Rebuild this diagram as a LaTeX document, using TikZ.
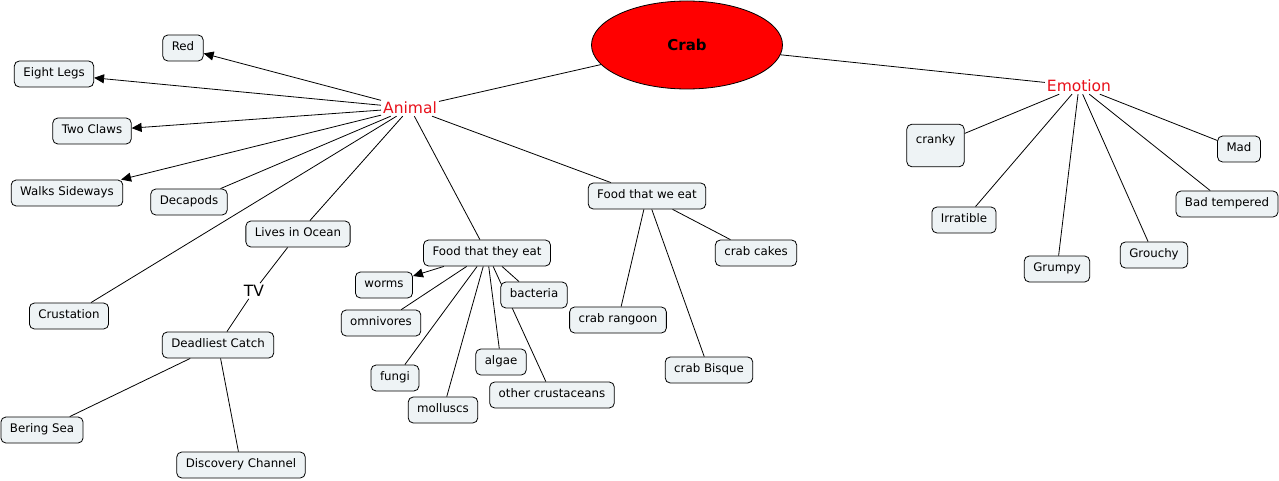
\documentclass[tikz,border=0pt]{standalone}
\usepackage{fontspec}
\setmainfont{DejaVu Sans}
\usetikzlibrary{arrows.meta,shapes.geometric,backgrounds}
\definecolor{CmapFill}{HTML}{EEF3F5}
\definecolor{CmapRed}{HTML}{FF0000}
\definecolor{PhraseRed}{HTML}{E8101A}

\begin{document}
\begin{tikzpicture}[x=1pt,y=-1pt,
  concept/.style={draw=black,line width=0.8pt,rounded corners=5pt,fill=CmapFill,inner xsep=9pt,inner ysep=7pt,text height=8.5pt,text depth=3.5pt,font=\fontsize{11.8}{14}\selectfont},
  phrase/.style={inner sep=2pt,font=\fontsize{15.5}{18}\selectfont,text=PhraseRed},
  root/.style={ellipse,draw=black,line width=0.8pt,fill=CmapRed,minimum width=191pt,minimum height=88pt,inner sep=0pt,font=\bfseries\fontsize{15}{18}\selectfont},
  link/.style={line width=0.8pt,draw=black},
  arr/.style={link,-{Triangle[length=10pt,width=9pt]}}
]
\useasboundingbox (0,0) rectangle (1279,481);
\node[root] (crab) at (687,45) {Crab};
\node[phrase] (animal) at (410,108) {Animal};
\node[phrase] (emotion) at (1079,86) {Emotion};
% animal side
\node[concept] (red) at (183,48) {Red};
\node[concept] (eightlegs) at (54,74) {Eight Legs};
\node[concept] (twoclaws) at (92,131) {Two Claws};
\node[concept] (walks) at (67,193) {Walks Sideways};
\node[concept] (decapods) at (189,202) {Decapods};
\node[concept] (lives) at (298,234) {Lives in Ocean};
\node[phrase,text=black] (tv) at (254,291) {TV};
\node[concept] (crustation) at (69,316) {Crustation};
\node[concept] (deadliest) at (218,345) {Deadliest Catch};
\node[concept] (bering) at (42,430) {Bering Sea};
\node[concept] (discovery) at (241,465) {Discovery Channel};
% food they eat
\node[concept] (foodthey) at (487,253) {Food that they eat};
\node[concept] (worms) at (384,285) {worms};
\node[concept] (omnivores) at (381,323) {omnivores};
\node[concept] (bacteria) at (534,295) {bacteria};
\node[concept] (algae) at (501,362) {algae};
\node[concept] (fungi) at (395,378) {fungi};
\node[concept] (molluscs) at (443,410) {molluscs};
\node[concept] (othercrust) at (552,395) {other crustaceans};
% food we eat
\node[concept] (foodwe) at (647,196) {Food that we eat};
\node[concept] (crabcakes) at (756,253) {crab cakes};
\node[concept] (rangoon) at (618,320) {crab rangoon};
\node[concept] (bisque) at (709,370) {crab Bisque};
% emotion side
\node[concept,text height=12pt,text depth=16.5pt] (cranky) at (935.5,145.5) {cranky};
\node[concept] (irratible) at (964,220) {Irratible};
\node[concept] (grumpy) at (1057,269) {Grumpy};
\node[concept] (grouchy) at (1154,255) {Grouchy};
\node[concept] (badtemp) at (1227,204) {Bad tempered};
\node[concept] (mad) at (1239,149) {Mad};

\begin{scope}[on background layer]
\fill[white] (0,0) rectangle (1279,481);
\draw[link] (crab) -- (animal);
\draw[link] (crab) -- (emotion);
\draw[arr] (animal) -- (red);
\draw[arr] (animal) -- (eightlegs);
\draw[arr] (animal) -- (twoclaws);
\draw[arr] (animal) -- (walks);
\draw[link] (animal) -- (decapods);
\draw[link] (animal) -- (crustation);
\draw[link] (animal) -- (lives);
\draw[link] (animal) -- (foodthey);
\draw[link] (animal) -- (foodwe);
\draw[link] (lives) -- (tv);
\draw[link] (tv) -- (deadliest);
\draw[link] (deadliest) -- (bering);
\draw[link] (deadliest) -- (discovery);
\draw[arr] (foodthey) -- (worms);
\draw[link] (foodthey) -- (omnivores);
\draw[link] (foodthey) -- (fungi);
\draw[link] (foodthey) -- (molluscs);
\draw[link] (foodthey) -- (algae);
\draw[link] (foodthey) -- (othercrust);
\draw[link] (foodthey) -- (bacteria);
\draw[link] (foodwe) -- (crabcakes);
\draw[link] (foodwe) -- (rangoon);
\draw[link] (foodwe) -- (bisque);
\draw[link] (emotion) -- (cranky);
\draw[link] (emotion) -- (irratible);
\draw[link] (emotion) -- (grumpy);
\draw[link] (emotion) -- (grouchy);
\draw[link] (emotion) -- (badtemp);
\draw[link] (emotion) -- (mad);
\end{scope}
\end{tikzpicture}
\end{document}
